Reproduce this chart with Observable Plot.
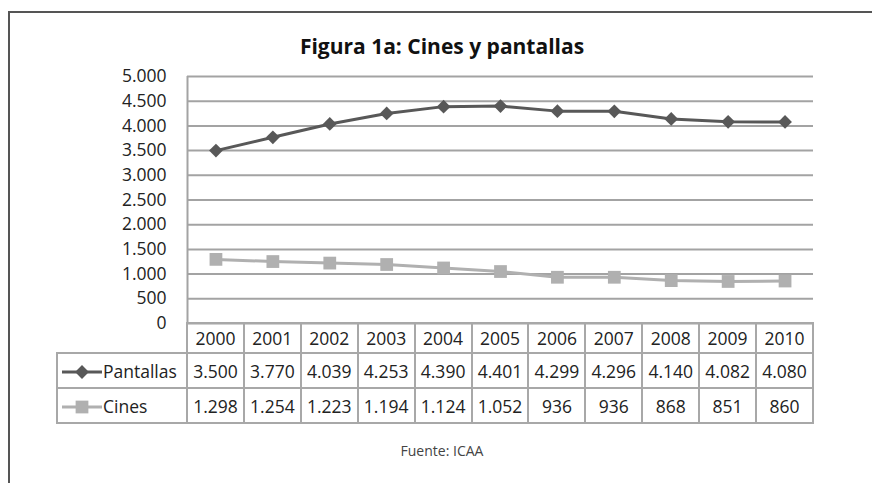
<!DOCTYPE html>
<html>
<head>
<meta charset="utf-8">
<script src="https://cdn.jsdelivr.net/npm/d3@7"></script>
<script src="https://cdn.jsdelivr.net/npm/@observablehq/plot@0.6"></script>
<style>
  html, body { margin: 0; padding: 0; background: #fff; }
  #root { position: relative; width: 872px; height: 483px; overflow: hidden; font-family: "Open Sans", sans-serif; color: #222; }
  #frame { position: absolute; left: 8px; top: 11px; width: 900px; height: 500px; border-left: 2px solid #555; border-top: 2px solid #555; box-sizing: border-box; }
  #title { position: absolute; left: 0; width: 884px; top: 32px; text-align: center; font-weight: bold; font-size: 21px; color: #111; }
  #plot { position: absolute; left: 0; top: 0; }
  #tbl { position: absolute; border-collapse: collapse; table-layout: fixed; font-size: 17.5px; }
  #tbl td { border: 2px solid #a8a8a8; text-align: center; padding: 0; white-space: nowrap; overflow: visible; }
  #tbl td.blank { border: none; }
  #tbl td.lg { text-align: left; }
  #caption { position: absolute; left: 0; width: 884px; top: 441px; text-align: center; font-size: 14px; color: #444; }
</style>
</head>
<body>
<div id="root">
  <div id="frame"></div>
  <div id="title">Figura 1a: Cines y pantallas</div>
  <div id="plot"></div>
  <table id="tbl"></table>
  <div id="caption">Fuente: ICAA</div>
</div>
<script>
const years = ["2000","2001","2002","2003","2004","2005","2006","2007","2008","2009","2010"];
const pantallas = [3500, 3770, 4039, 4253, 4390, 4401, 4299, 4296, 4140, 4082, 4080];
const cines = [1298, 1254, 1223, 1194, 1124, 1052, 936, 936, 868, 851, 860];
const yTicks = [0, 500, 1000, 1500, 2000, 2500, 3000, 3500, 4000, 4500, 5000];
const seriesNames = ["Pantallas", "Cines"];
const seriesColors = ["#585858", "#b0b0b0"];
const seriesSymbols = ["diamond2", "square"];

const esLocale = d3.formatLocale({decimal: ",", thousands: ".", grouping: [3], currency: ["", "€"]});
const fmt = esLocale.format(",");

const data = [];
years.forEach((y, i) => {
  data.push({year: y, value: pantallas[i], serie: seriesNames[0]});
  data.push({year: y, value: cines[i], serie: seriesNames[1]});
});

const rDiamond = 6.2, rSquare = 7.2;

const chart = Plot.plot({
  width: 872,
  height: 483,
  marginLeft: 187,
  marginRight: 59,
  marginTop: 76,
  marginBottom: 160,
  style: {fontFamily: "Open Sans, sans-serif", fontSize: "17.5px", color: "#222", background: "transparent"},
  x: {type: "point", domain: years, padding: 0.5, round: false, axis: null},
  y: {domain: [0, 5000], axis: null, label: null},
  color: {domain: seriesNames, range: seriesColors},
  symbol: {domain: seriesNames, range: seriesSymbols},
  marks: [
    Plot.ruleY(yTicks, {stroke: "#a3a3a3", strokeWidth: 2}),
    Plot.ruleX([0], {x: () => years[0], dx: -28.45, y1: 0, y2: 5000, stroke: "#a3a3a3", strokeWidth: 2}),
    Plot.axisY({ticks: yTicks, tickSize: 0, tickPadding: 21, tickFormat: fmt, fontSize: 17.5, textAnchor: "end", label: null}),
    Plot.line(data, {x: "year", y: "value", z: "serie", stroke: "serie", strokeWidth: 3}),
    Plot.dot(data.filter(d => d.serie === "Pantallas"), {x: "year", y: "value", symbol: "serie", fill: "serie", r: rDiamond, stroke: null}),
    Plot.dot(data.filter(d => d.serie === "Cines"), {x: "year", y: "value", symbol: "serie", fill: "serie", r: rSquare, stroke: null})
  ]
});
document.getElementById("plot").appendChild(chart);

// Build data table aligned to Plot's x scale
const xs = chart.scale("x");
const step = xs.apply(years[1]) - xs.apply(years[0]);
const left0 = xs.apply(years[0]) - step / 2;
const ys = chart.scale("y");
const y0 = ys.apply(0);
const legendLeft = 57;
const tbl = document.getElementById("tbl");
tbl.style.left = (legendLeft - 1) + "px";
tbl.style.top = (y0 - 1) + "px";
tbl.style.width = (left0 - legendLeft + step * years.length + 2) + "px";

const colgroup = document.createElement("colgroup");
const c0 = document.createElement("col"); c0.style.width = (left0 - legendLeft) + "px"; colgroup.appendChild(c0);
years.forEach(() => { const c = document.createElement("col"); c.style.width = step + "px"; colgroup.appendChild(c); });
tbl.appendChild(colgroup);

const hdr = document.createElement("tr");
hdr.style.height = "30px";
const blank = document.createElement("td"); blank.className = "blank"; hdr.appendChild(blank);
years.forEach(y => { const td = document.createElement("td"); td.textContent = y; hdr.appendChild(td); });
tbl.appendChild(hdr);

function legendIcon(i) {
  const svg = d3.create("svg").attr("width", 40).attr("height", 18).style("vertical-align", "middle").style("margin-left", "4px").style("margin-right", "1px");
  svg.append("line").attr("x1", 0).attr("x2", 40).attr("y1", 9).attr("y2", 9).attr("stroke", seriesColors[i]).attr("stroke-width", 3);
  if (i === 0) {
    svg.append("path").attr("d", d3.symbol(d3.symbolDiamond2, rDiamond * rDiamond * Math.PI)()).attr("transform", "translate(20,9)").attr("fill", seriesColors[i]);
  } else {
    svg.append("path").attr("d", d3.symbol(d3.symbolSquare, rSquare * rSquare * Math.PI)()).attr("transform", "translate(20,9)").attr("fill", seriesColors[i]);
  }
  return svg.node();
}

[pantallas, cines].forEach((vals, i) => {
  const tr = document.createElement("tr");
  tr.style.height = "35px";
  const lg = document.createElement("td"); lg.className = "lg";
  lg.appendChild(legendIcon(i));
  const sp = document.createElement("span"); sp.textContent = seriesNames[i]; sp.style.verticalAlign = "middle";
  lg.appendChild(sp);
  tr.appendChild(lg);
  vals.forEach(v => { const td = document.createElement("td"); td.textContent = fmt(v); tr.appendChild(td); });
  tbl.appendChild(tr);
});
</script>
</body>
</html>
